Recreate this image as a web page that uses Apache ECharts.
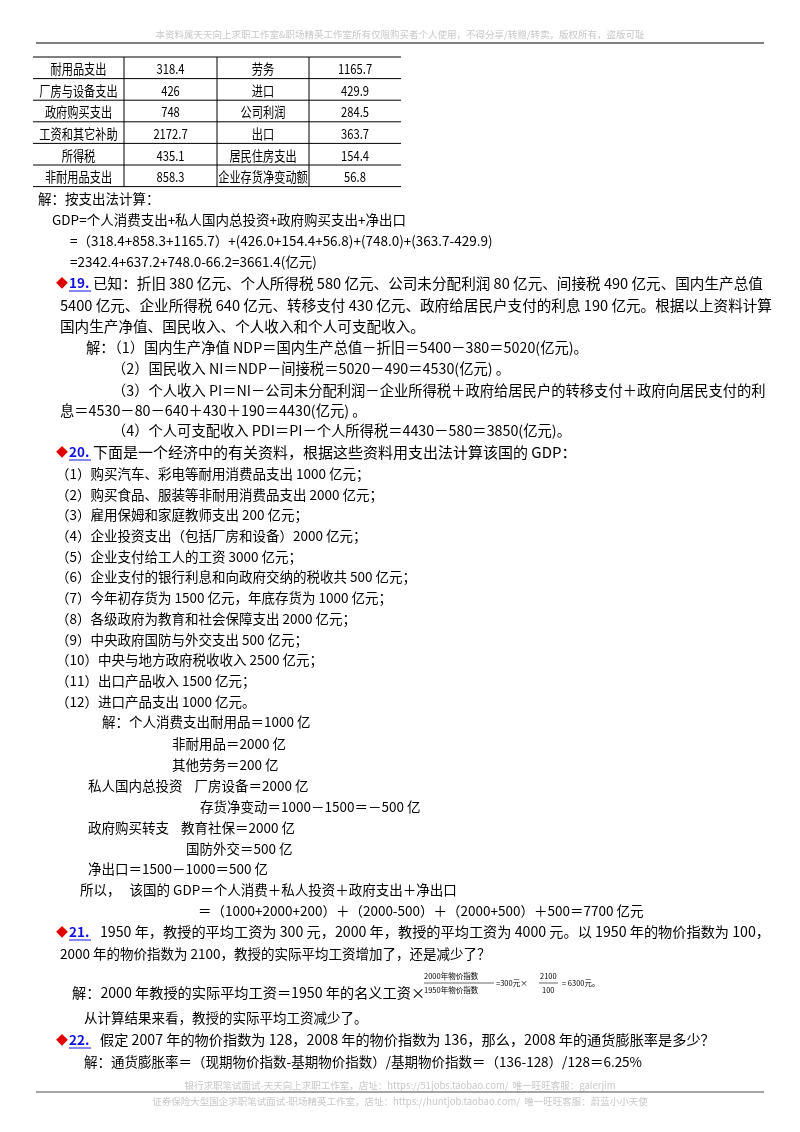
<!DOCTYPE html><html><head><meta charset="utf-8">
<script src="https://cdn.jsdelivr.net/npm/echarts@6/dist/echarts.min.js"></script>
<style>html,body{margin:0;background:#fff}#c{width:800px;height:1132px}</style></head><body><div id="c"></div>
<script>
const tableRows=[["耐用品支出","318.4","劳务","1165.7"],["厂房与设备支出","426","进口","429.9"],["政府购买支出","748","公司利润","284.5"],["工资和其它补助","2172.7","出口","363.7"],["所得税","435.1","居民住房支出","154.4"],["非耐用品支出","858.3","企业存货净变动额","56.8"]];
const header="本资料属天天向上求职工作室&职场精英工作室所有仅限购买者个人使用，不得分享/转赠/转卖，版权所有，盗版可耻";
const footer1="银行求职笔试面试-天天向上求职工作室，店址：https://51jobs.taobao.com/  唯一旺旺客服：galerjim";
const footer2="证券保险大型国企求职笔试面试-职场精英工作室，店址：https://huntjob.taobao.com/  唯一旺旺客服：蔚蓝小小天使";
const questionNums=["19.","20.","21.","22."];
const lines=[
["解：按支出法计算：",38,199],
["GDP=个人消费支出+私人国内总投资+政府购买支出+净出口",52,220],
["=（318.4+858.3+1165.7）+(426.0+154.4+56.8)+(748.0)+(363.7-429.9)",70,241],
["=2342.4+637.2+748.0-66.2=3661.4(亿元)",70,262],
["已知：折旧 380 亿元、个人所得税 580 亿元、公司未分配利润 80 亿元、间接税 490 亿元、国内生产总值",93,283,14.6],
["5400 亿元、企业所得税 640 亿元、转移支付 430 亿元、政府给居民户支付的利息 190 亿元。根据以上资料计算",60,305,14.6],
["国内生产净值、国民收入、个人收入和个人可支配收入。",60,326,14.6],
["解：（1）国内生产净值 NDP＝国内生产总值－折旧＝5400－380＝5020(亿元)。",86,348,14.3],
["（2）国民收入 NI＝NDP－间接税＝5020－490＝4530(亿元) 。",112,369,14.3],
["（3）个人收入 PI＝NI－公司未分配利润－企业所得税＋政府给居民户的转移支付＋政府向居民支付的利",112,391,14.3],
["息＝4530－80－640＋430＋190＝4430(亿元) 。",60,411,14.3],
["（4）个人可支配收入 PDI＝PI－个人所得税＝4430－580＝3850(亿元)。",112,431,14.3],
["下面是一个经济中的有关资料，根据这些资料用支出法计算该国的 GDP：",93,452,15],
["（1）购买汽车、彩电等耐用消费品支出 1000 亿元；",56,474],
["（2）购买食品、服装等非耐用消费品支出 2000 亿元；",56,495],
["（3）雇用保姆和家庭教师支出 200 亿元；",56,515],
["（4）企业投资支出（包括厂房和设备）2000 亿元；",56,536],
["（5）企业支付给工人的工资 3000 亿元；",56,557],
["（6）企业支付的银行利息和向政府交纳的税收共 500 亿元；",56,577],
["（7）今年初存货为 1500 亿元，年底存货为 1000 亿元；",56,598],
["（8）各级政府为教育和社会保障支出 2000 亿元；",56,619],
["（9）中央政府国防与外交支出 500 亿元；",56,640],
["（10）中央与地方政府税收收入 2500 亿元；",56,660],
["（11）出口产品收入 1500 亿元；",56,681],
["（12）进口产品支出 1000 亿元。",56,702],
["解：个人消费支出耐用品＝1000 亿",102,722],
["非耐用品＝2000 亿",172,744],
["其他劳务＝200 亿",172,765],
["私人国内总投资    厂房设备＝2000 亿",88,786],
["存货净变动＝1000－1500＝－500 亿",200,807],
["政府购买转支    教育社保＝2000 亿",88,828],
["国防外交＝500 亿",186,849],
["净出口＝1500－1000＝500 亿",88,869],
["所以，   该国的 GDP＝个人消费＋私人投资＋政府支出＋净出口",80,890],
["＝（1000+2000+200）＋（2000-500）＋（2000+500）＋500＝7700 亿元",198,911],
["1950 年，教授的平均工资为 300 元，2000 年，教授的平均工资为 4000 元。以 1950 年的物价指数为 100，",100,932,14.2],
["2000 年的物价指数为 2100，教授的实际平均工资增加了，还是减少了？",60,954],
["解：2000 年教授的实际平均工资＝1950 年的名义工资×",72,993,14.2],
["从计算结果来看，教授的实际平均工资减少了。",84,1018],
["假定 2007 年的物价指数为 128，2008 年的物价指数为 136，那么，2008 年的通货膨胀率是多少？",100,1040,14.2],
["解：通货膨胀率＝（现期物价指数-基期物价指数）/基期物价指数＝（136-128）/128＝6.25%",84,1062]
];
const qPos=[[64,283],[64,452],[64,932],[64,1040]];
const F='"Noto Sans CJK SC","Noto Sans",sans-serif';
const g=[];
function t(s,x,y,o,ex){g.push(Object.assign({type:'text',x:x,y:y,style:Object.assign({text:s,font:'13.5px '+F,fill:'#000',textVerticalAlign:'middle'},o||{})},ex||{}));}
function ln(x1,y1,x2,y2,c,w){g.push({type:'line',shape:{x1,y1,x2,y2},style:{stroke:c||'#000',lineWidth:w||1}});}
t(header,400,34,{textAlign:'center',fill:'#c8c8c8',font:'9.5px '+F});
ln(36,43,764,43,'#000',1);
const cx=[33,124,217,309,401],ry0=57,rh=21.6;
for(let i=0;i<=tableRows.length;i++) ln(33,ry0+i*rh,401,ry0+i*rh,'#000',1);
for(let j=1;j<4;j++) ln(cx[j],ry0,cx[j],ry0+6*rh,'#000',1);
tableRows.forEach((r,i)=>r.forEach((c,j)=>t(c,(cx[j]+cx[j+1])/2,ry0+(i+.5)*rh+1,{textAlign:'center',font:'14px '+F},{scaleX:0.8})));
lines.forEach(l=>t(l[0],l[1],l[2],{font:(l[3]||13.5)+'px '+F}));
questionNums.forEach((q,i)=>{const [x,y]=qPos[i];
 t('◆',x-8,y,{fill:'#e00000',font:'12px '+F});
 t(q,x+5,y,{fill:'#1010e0',font:'bold 13.5px '+F});
 ln(x+5,y+8,x+27,y+8,'#1010e0',1);});
const ff='7.5px '+F;
t('2000年物价指数',424,976,{font:ff});ln(424,983,494,983,'#000',0.6);
t('1950年物价指数',424,990,{font:ff});
t('=300元×',496,983,{font:ff});
t('2100',540,976,{font:ff});ln(539,983,558,983,'#000',0.6);t('100',542,990,{font:ff});
t('= 6300元。',562,983,{font:ff});
t(footer1,400,1085,{textAlign:'center',fill:'#c8c8c8',font:'9.5px '+F});
ln(36,1092,764,1092,'#888',1.5);
t(footer2,400,1101,{textAlign:'center',fill:'#c8c8c8',font:'9.5px '+F});
const ch=echarts.init(document.getElementById('c'));
ch.setOption({graphic:g});
</script></body></html>
